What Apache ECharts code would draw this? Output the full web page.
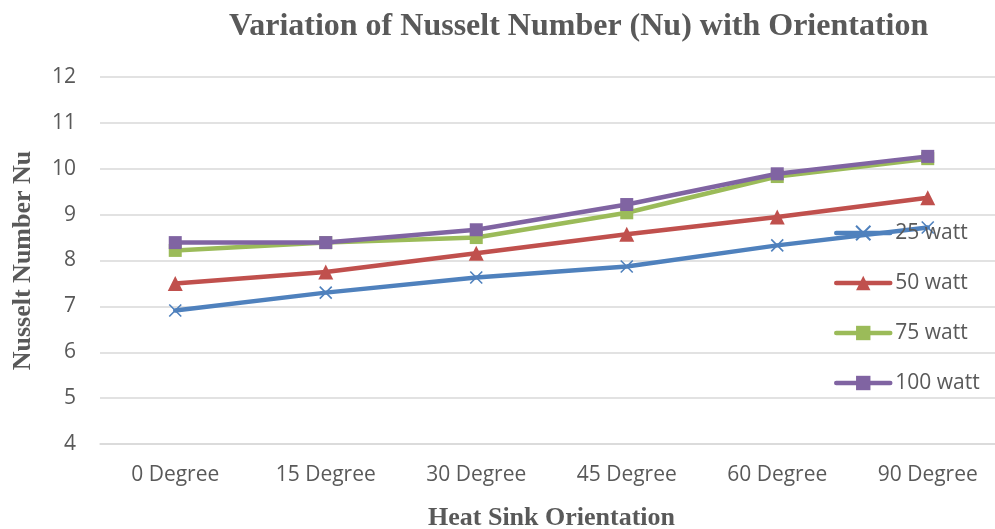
<!DOCTYPE html>
<html>
<head>
<meta charset="utf-8">
<script src="https://cdn.jsdelivr.net/npm/echarts@6/dist/echarts.min.js"></script>
<style>html,body{margin:0;padding:0;background:#fff;}#c{width:995px;height:529px;}</style>
</head>
<body>
<div id="c"></div>
<script>
const categories = ['0 Degree', '15 Degree', '30 Degree', '45 Degree', '60 Degree', '90 Degree'];
const seriesNames = ['25 watt', '50 watt', '75 watt', '100 watt'];
const w25 = [6.91, 7.30, 7.63, 7.87, 8.33, 8.72];
const w50 = [7.50, 7.75, 8.16, 8.57, 8.95, 9.37];
const w75 = [8.22, 8.39, 8.50, 9.04, 9.83, 10.22];
const w100 = [8.39, 8.39, 8.67, 9.22, 9.89, 10.27];
const yTicks = [4, 5, 6, 7, 8, 9, 10, 11, 12];

const colors = ['#4F81BD', '#C0504D', '#9BBB59', '#8064A2'];
const symbols = ['path://M0,0 L10,10 M10,0 L0,10', 'triangle', 'rect', 'rect'];
const symbolSizes = [12, 15, 13, 13];
const dataSets = [w25, w50, w75, w100];
const textColor = '#595959';

const chart = echarts.init(document.getElementById('c'));
chart.setOption({
  animation: false,
  backgroundColor: '#ffffff',
  title: {
    text: 'Variation of Nusselt Number (Nu) with Orientation',
    left: 224, top: 6,
    textStyle: { fontFamily: 'Liberation Serif', fontWeight: 'bold', fontSize: 32, color: textColor }
  },
  legend: {
    orient: 'vertical',
    left: 834, top: 220,
    padding: 0,
    itemWidth: 54, itemHeight: 18,
    itemGap: 24,
    data: seriesNames,
    lineStyle: { width: 4.5 },
    textStyle: { fontFamily: 'Open Sans', fontSize: 21, color: textColor, lineHeight: 26 }
  },
  grid: { left: 100, right: -8, top: 77, bottom: 85, containLabel: false, outerBoundsMode: 'none' },
  xAxis: {
    type: 'category',
    data: categories,
    boundaryGap: true,
    axisLine: { show: true, lineStyle: { color: '#D9D9D9', width: 1.5 } },
    axisTick: { show: false },
    axisLabel: { fontFamily: 'Open Sans', fontSize: 21, color: textColor, margin: 21 },
    name: 'Heat Sink Orientation',
    nameLocation: 'middle',
    nameGap: 61,
    nameTextStyle: { fontFamily: 'Liberation Serif', fontWeight: 'bold', fontSize: 26, color: textColor }
  },
  yAxis: {
    type: 'value',
    min: yTicks[0], max: yTicks[yTicks.length - 1], interval: 1,
    axisLine: { show: false },
    axisTick: { show: false },
    splitLine: { lineStyle: { color: '#D9D9D9', width: 1.5 } },
    axisLabel: { fontFamily: 'Open Sans', fontSize: 21, color: textColor, margin: 24 },
    name: 'Nusselt Number Nu',
    nameLocation: 'middle',
    nameGap: 64,
    nameTextStyle: { fontFamily: 'Liberation Serif', fontWeight: 'bold', fontSize: 26, color: textColor }
  },
  series: seriesNames.map((n, i) => ({
    name: n,
    type: 'line',
    data: dataSets[i],
    symbol: symbols[i],
    symbolSize: symbolSizes[i],
    showAllSymbol: true,
    color: colors[i],
    lineStyle: { width: 4.5, color: colors[i], cap: 'round', join: 'round' },
    itemStyle: i === 0
      ? { color: colors[i], borderColor: colors[i], borderWidth: 1.6, opacity: 1 }
      : { color: colors[i], borderWidth: 0, opacity: 1 },
    z: 2 + i
  }))
});
</script>
</body>
</html>
